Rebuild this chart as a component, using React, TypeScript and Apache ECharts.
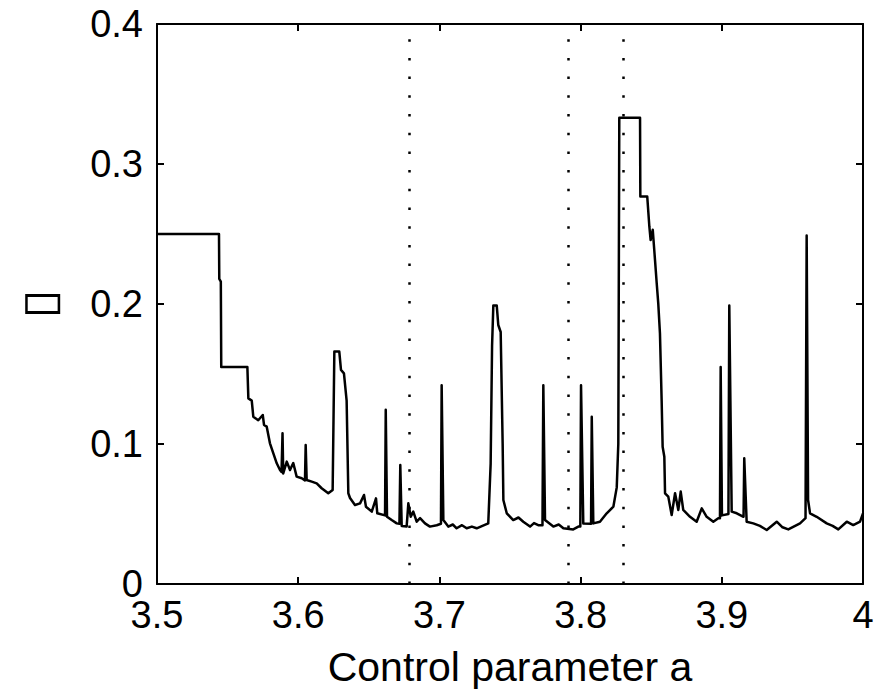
import React, { useEffect, useRef } from "react";
import * as echarts from "echarts";

// Control parameter a (x) and the plotted quantity (y)
const controlA = [
  3.5, 3.5439, 3.5441, 3.5452, 3.5455, 3.564, 3.5647, 3.5671, 3.5682, 3.5717,
  3.5749, 3.5758, 3.5777, 3.58, 3.5824, 3.5848, 3.5871, 3.5882, 3.5889, 3.5894,
  3.5919, 3.5942, 3.5965, 3.5989, 3.6025, 3.6048, 3.6053, 3.606, 3.6096, 3.6131,
  3.6166, 3.6213, 3.6244, 3.6256, 3.6291, 3.6303, 3.6324, 3.6343, 3.6355, 3.6367,
  3.6402, 3.6438, 3.6466, 3.648, 3.6521, 3.6551, 3.656, 3.6615, 3.662, 3.6629,
  3.6662, 3.6698, 3.6717, 3.6723, 3.6733, 3.6768, 3.678, 3.6797, 3.6815, 3.6839,
  3.6863, 3.6898, 3.6933, 3.6981, 3.7011, 3.7016, 3.7028, 3.7063, 3.7095, 3.7122,
  3.716, 3.7193, 3.723, 3.7264, 3.7346, 3.7363, 3.7373, 3.7382, 3.7406, 3.7417,
  3.7434, 3.7448, 3.7453, 3.7477, 3.7523, 3.756, 3.7594, 3.7642, 3.767, 3.77,
  3.773, 3.7736, 3.7748, 3.7807, 3.7845, 3.7878, 3.7948, 3.7984, 3.7998, 3.8003,
  3.8019, 3.8074, 3.8079, 3.809, 3.8137, 3.8185, 3.8232, 3.8256, 3.8267, 3.8274,
  3.8421, 3.8423, 3.8472, 3.8487, 3.8496, 3.8511, 3.8527, 3.8539, 3.855, 3.8562,
  3.8574, 3.8581, 3.8593, 3.8598, 3.8621, 3.8645, 3.8669, 3.8692, 3.8709, 3.8727,
  3.8775, 3.8822, 3.8858, 3.8893, 3.894, 3.8975, 3.8987, 3.8992, 3.9001, 3.9047,
  3.9053, 3.907, 3.9106, 3.9154, 3.9159, 3.9176, 3.9223, 3.927, 3.9318, 3.9389,
  3.943, 3.9471, 3.9554, 3.9593, 3.9601, 3.9611, 3.9625, 3.9672, 3.9743, 3.9785,
  3.9825, 3.9885, 3.9931, 3.9979, 4.0,
];
const measure = [
  0.25, 0.25, 0.218, 0.216, 0.155, 0.155, 0.1326, 0.131, 0.1195, 0.117,
  0.1207, 0.1136, 0.1124, 0.1005, 0.0933, 0.0862, 0.0814, 0.08, 0.1076, 0.079,
  0.0874, 0.0814, 0.0864, 0.0767, 0.0755, 0.074, 0.0993, 0.0743, 0.0731, 0.0719,
  0.0684, 0.0648, 0.0671, 0.166, 0.166, 0.1529, 0.1505, 0.131, 0.0648, 0.0614,
  0.0564, 0.0576, 0.0636, 0.0552, 0.0517, 0.0612, 0.0505, 0.049, 0.1245, 0.0481,
  0.0457, 0.0433, 0.043, 0.085, 0.0414, 0.041, 0.0576, 0.048, 0.0517, 0.0445,
  0.047, 0.0433, 0.041, 0.042, 0.043, 0.142, 0.0457, 0.041, 0.0425, 0.0398,
  0.042, 0.0398, 0.041, 0.0398, 0.0433, 0.086, 0.17, 0.199, 0.199, 0.185,
  0.18, 0.1, 0.06, 0.0505, 0.0457, 0.0475, 0.0445, 0.041, 0.0435, 0.042,
  0.042, 0.142, 0.0457, 0.041, 0.0425, 0.0398, 0.039, 0.041, 0.041, 0.142,
  0.0433, 0.043, 0.1195, 0.0433, 0.0445, 0.0505, 0.0552, 0.069, 0.1, 0.333,
  0.333, 0.2767, 0.2767, 0.2552, 0.2457, 0.253, 0.2314, 0.2148, 0.2005, 0.179,
  0.131, 0.098, 0.0909, 0.0648, 0.0624, 0.0493, 0.0648, 0.0529, 0.066, 0.0529,
  0.048, 0.0445, 0.054, 0.048, 0.0445, 0.047, 0.047, 0.155, 0.049, 0.05,
  0.199, 0.0517, 0.0505, 0.048, 0.0898, 0.0445, 0.0433, 0.0415, 0.0386, 0.0445,
  0.0405, 0.039, 0.0433, 0.047, 0.249, 0.06, 0.0505, 0.048, 0.0433, 0.0415,
  0.039, 0.0445, 0.0421, 0.0445, 0.0505,
];

// Dotted vertical reference lines
const dividerA = [3.679, 3.791, 3.83];

const xRange = [3.5, 4];
const yRange = [0, 0.4];
const xStep = 0.1;
const yStep = 0.1;
const xTitle = "Control parameter a";
const yTitle = "\u25AD";

const FONT = "Liberation Sans, Arial, Helvetica, sans-serif";

export default function App() {
  const ref = useRef<HTMLDivElement>(null);

  useEffect(() => {
    if (!ref.current) return;
    const chart = echarts.init(ref.current, undefined, { renderer: "svg" });
    const axisCommon = {
      type: "value" as const,
      axisLine: { show: true, onZero: false, lineStyle: { color: "#000", width: 2 } },
      axisTick: { show: true, inside: true, length: 7, lineStyle: { color: "#000", width: 2 } },
      splitLine: { show: false },
    };
    const option = {
      animation: false,
      backgroundColor: "#fff",
      grid: { left: 157, right: 16, top: 24, bottom: 112, containLabel: false },
      graphic: [
        {
          type: "text",
          x: 21,
          y: 272,
          scaleX: 0.85,
          style: { text: yTitle, fontSize: 54, fontFamily: "DejaVu Sans", fill: "#000" },
        },
      ],
      xAxis: [
        {
          ...axisCommon,
          position: "bottom",
          min: xRange[0],
          max: xRange[1],
          interval: xStep,
          axisLabel: { show: true, color: "#000", fontSize: 38, lineHeight: 26, fontFamily: FONT, margin: 18 },
          name: xTitle,
          nameLocation: "middle",
          nameGap: 62,
          nameTextStyle: { color: "#000", fontSize: 41, fontFamily: FONT },
        },
        {
          ...axisCommon,
          position: "top",
          min: xRange[0],
          max: xRange[1],
          interval: xStep,
          axisLabel: { show: false },
        },
      ],
      yAxis: [
        {
          ...axisCommon,
          position: "left",
          min: yRange[0],
          max: yRange[1],
          interval: yStep,
          axisLabel: { show: true, color: "#000", fontSize: 38, lineHeight: 26, fontFamily: FONT, margin: 14 },
        },
        {
          ...axisCommon,
          position: "right",
          min: yRange[0],
          max: yRange[1],
          interval: yStep,
          axisLabel: { show: false },
        },
      ],
      series: [
        {
          type: "line",
          data: controlA.map((a, i) => [a, measure[i]]),
          showSymbol: false,
          symbol: "none",
          lineStyle: { color: "#000", width: 2.5, join: "round" },
          markLine: {
            silent: true,
            symbol: "none",
            label: { show: false },
            lineStyle: { color: "#000", width: 2.5, type: [2.5, 16.2], cap: "butt" },
            data: dividerA.map((a) => [{ coord: [a, yRange[0]] }, { coord: [a, yRange[1]] }]),
          },
        },
      ],
    };
    chart.setOption(option as any);
    return () => chart.dispose();
  }, []);

  return (
    <div ref={ref} style={{ position: "absolute", left: 0, top: 0, width: 879, height: 696, background: "#fff" }} />
  );
}
